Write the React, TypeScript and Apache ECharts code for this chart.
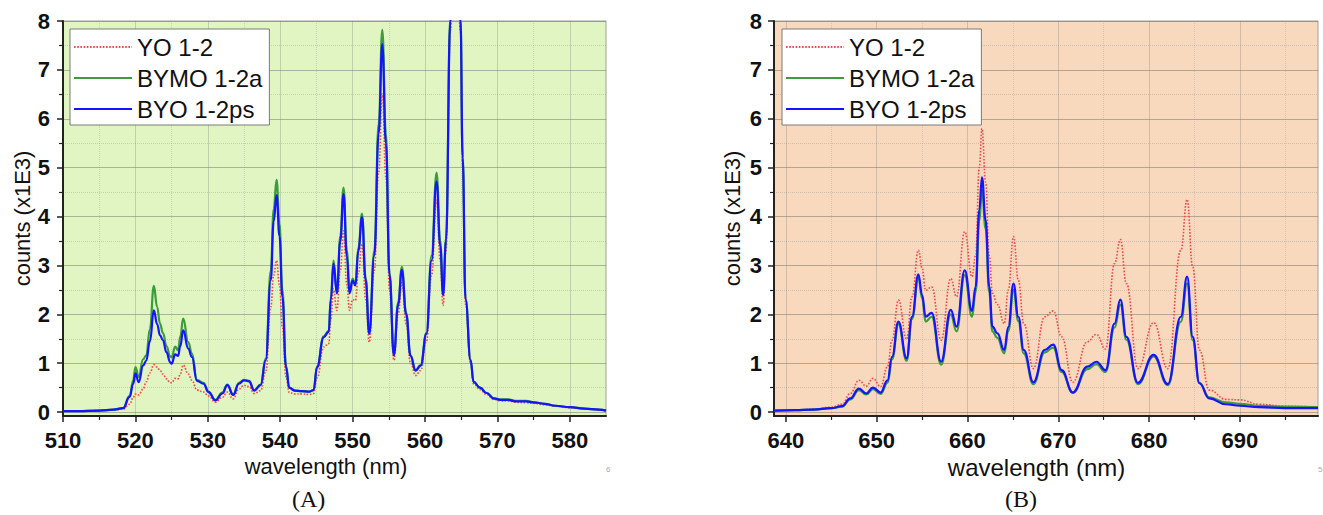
import React, { useEffect, useRef } from "react";
import * as echarts from "echarts";

const FONT = '"Liberation Sans", Arial, Helvetica, sans-serif';
const SERIF = '"Liberation Serif", "Times New Roman", serif';

const seriesNames = ["YO 1-2", "BYMO 1-2a", "BYO 1-2ps"];

// ---------- Panel A (510-585 nm) ----------
const wlA = [
  510, 512, 515, 517, 518.3, 519.2, 519.7, 520, 520.46, 521.06,
  521.5, 522, 522.55, 523, 523.4, 523.8, 524.3, 524.8, 525, 525.5,
  525.9, 526.2, 526.6, 527.3, 527.8, 528.5, 529.4, 530.1, 531.05, 532,
  532.7, 533.5, 534.3, 535, 535.7, 536.4, 537.3, 538, 538.7, 539.1,
  539.5, 539.9, 540.3, 540.8, 541.25, 542, 543, 544, 544.6, 545.1,
  546.0, 546.7, 547.0, 547.36, 547.83, 548.3, 548.75, 549.2, 549.58, 550,
  550.38, 550.8, 551.3, 551.8, 552.3, 553, 553.6, 554.1, 554.6, 555.1,
  555.7, 556.3, 556.8, 557.4, 558, 558.7, 559.4, 560.2, 560.9, 561.6,
  562.1, 562.5, 562.9, 563.5, 564.2, 564.9, 565.2, 565.6, 566.3, 566.7,
  567.6, 568.5, 569.5, 570.4, 571.5, 572.5, 574, 575, 576.5, 578,
  580, 582, 584, 585,
];
const yoA = [
  0.02, 0.02, 0.03, 0.04, 0.06, 0.16, 0.3, 0.37, 0.35, 0.47,
  0.62, 0.8, 0.97, 0.92, 0.85, 0.78, 0.68, 0.6, 0.6, 0.69,
  0.68, 0.78, 0.96, 0.78, 0.65, 0.45, 0.41, 0.33, 0.2, 0.3,
  0.41, 0.27, 0.47, 0.55, 0.52, 0.38, 0.44, 0.82, 2.15, 2.8,
  3.1, 2.6, 1.74, 0.72, 0.4, 0.37, 0.37, 0.36, 0.38, 0.7,
  1.33, 1.4, 1.9, 2.52, 2.08, 2.9, 3.71, 2.6, 2.08, 2.3,
  2.28, 2.85, 3.44, 2.3, 1.43, 2.9, 4.9, 6.51, 4.8, 2.5,
  1.06, 2.0, 2.65, 1.8, 1.0, 0.75, 0.85, 1.45, 2.8, 4.33,
  3.1, 2.18, 3.3, 7.8, 10.7, 7.8, 5.0, 2.2, 1.0, 0.58,
  0.46, 0.36, 0.26, 0.23, 0.23, 0.2, 0.19, 0.18, 0.15, 0.12,
  0.09, 0.07, 0.05, 0.03,
];
const bymoA = [
  0.02, 0.02, 0.03, 0.05, 0.08, 0.33, 0.65, 0.92, 0.72, 1.08,
  1.16, 1.7, 2.58, 2.15, 1.81, 1.62, 1.35, 1.14, 1.12, 1.34,
  1.26, 1.55, 1.91, 1.43, 1.2, 0.66, 0.6, 0.42, 0.25, 0.4,
  0.56, 0.36, 0.6, 0.66, 0.64, 0.45, 0.56, 1.1, 2.9, 4.15,
  4.75, 3.85, 2.5, 0.95, 0.5, 0.44, 0.43, 0.42, 0.45, 0.93,
  1.55, 1.66, 2.35, 3.1, 2.46, 3.6, 4.59, 3.3, 2.46, 2.73,
  2.62, 3.37, 4.06, 2.75, 1.62, 3.3, 5.9, 7.82, 5.7, 2.85,
  1.18, 2.25, 2.97, 2.03, 1.16, 0.86, 0.96, 1.62, 3.2, 4.9,
  3.5, 2.42, 3.55, 8.1, 11.2, 8.1, 5.25, 2.32, 1.07, 0.62,
  0.5, 0.39, 0.28, 0.26, 0.26, 0.23, 0.23, 0.2, 0.17, 0.13,
  0.1, 0.07, 0.05, 0.03,
];
const byoA = [
  0.02, 0.02, 0.03, 0.05, 0.08, 0.31, 0.58, 0.79, 0.61, 0.95,
  1.05, 1.45, 2.08, 1.8, 1.57, 1.47, 1.22, 1.02, 0.99, 1.18,
  1.15, 1.35, 1.67, 1.3, 1.13, 0.64, 0.58, 0.41, 0.24, 0.38,
  0.55, 0.35, 0.58, 0.65, 0.63, 0.44, 0.55, 1.06, 2.7, 3.9,
  4.44, 3.6, 2.36, 0.92, 0.5, 0.44, 0.43, 0.42, 0.45, 0.92,
  1.53, 1.64, 2.3, 3.03, 2.43, 3.5, 4.46, 3.2, 2.43, 2.69,
  2.59, 3.3, 3.99, 2.7, 1.6, 3.2, 5.7, 7.53, 5.5, 2.8,
  1.16, 2.2, 2.91, 2.0, 1.15, 0.85, 0.95, 1.6, 3.1, 4.72,
  3.4, 2.39, 3.5, 8.0, 11.0, 8.0, 5.2, 2.3, 1.06, 0.62,
  0.5, 0.39, 0.28, 0.25, 0.25, 0.22, 0.22, 0.2, 0.17, 0.13,
  0.1, 0.07, 0.05, 0.03,
];

// ---------- Panel B (638.7-698.6 nm) ----------
const wlB = [
  638.7, 641, 643, 645, 646.2, 647.1, 648.05, 648.85, 649.6, 650.44,
  651.2, 651.7, 652.4, 653.3, 653.9, 654.6, 655.0, 655.4, 656.06, 657.1,
  658.16, 658.8, 659.7, 660.5, 660.9, 661.3, 661.6, 662.0, 662.4, 662.75,
  663.3, 664.05, 664.5, 665.07, 665.6, 666.2, 667.26, 668.5, 669.45, 670.37,
  671.6, 673.2, 674.2, 675.2, 676.2, 676.84, 677.5, 678.77, 680.5, 682.06,
  683.5, 684.19, 684.8, 685.54, 686.63, 688.46, 690, 692.1, 695, 698.6,
];
const yoB = [
  0.03, 0.04, 0.06, 0.1, 0.16, 0.38, 0.65, 0.53, 0.69, 0.52,
  0.93, 1.47, 2.29, 1.49, 2.36, 3.31, 2.95, 2.49, 2.56, 1.47,
  2.73, 2.36, 3.69, 2.77, 3.2, 5.0, 5.8, 4.7, 3.2, 2.43,
  2.2, 1.81, 2.5, 3.59, 2.7, 1.81, 0.89, 1.95, 2.07, 1.54,
  0.61, 1.44, 1.59, 1.29, 3.04, 3.53, 2.63, 0.89, 1.83, 0.89,
  3.31, 4.35, 2.97, 1.27, 0.45, 0.26, 0.25, 0.16, 0.12, 0.1,
];
const bymoB = [
  0.03, 0.04, 0.05, 0.08, 0.11, 0.26, 0.45, 0.36, 0.47, 0.37,
  0.6, 1.08, 1.8, 1.05, 1.9, 2.75, 2.33, 1.85, 1.95, 0.97,
  2.0, 1.65, 2.8, 1.95, 2.45, 3.9, 4.55, 3.75, 2.45, 1.65,
  1.52, 1.2, 1.66, 2.5, 1.86, 1.2, 0.57, 1.22, 1.32, 0.82,
  0.4, 0.88, 0.98, 0.82, 1.73, 2.2, 1.48, 0.57, 1.14, 0.55,
  1.85, 2.63, 1.47, 0.6, 0.3, 0.2, 0.17, 0.13, 0.11, 0.1,
];
const byoB = [
  0.03, 0.04, 0.05, 0.08, 0.12, 0.28, 0.48, 0.38, 0.5, 0.4,
  0.65, 1.13, 1.85, 1.1, 1.95, 2.82, 2.4, 1.95, 2.03, 1.03,
  2.09, 1.75, 2.9, 2.07, 2.56, 4.13, 4.8, 3.93, 2.56, 1.75,
  1.61, 1.27, 1.74, 2.63, 1.95, 1.27, 0.61, 1.27, 1.38, 0.86,
  0.4, 0.93, 1.03, 0.86, 1.81, 2.3, 1.54, 0.6, 1.17, 0.57,
  1.95, 2.77, 1.54, 0.59, 0.28, 0.16, 0.13, 0.1, 0.08, 0.08,
];

// ---------- Tick values ----------
const yMajor = [0, 1, 2, 3, 4, 5, 6, 7, 8];
const yMinor = [0.5, 1.5, 2.5, 3.5, 4.5, 5.5, 6.5, 7.5];
const xMajorA = [510, 520, 530, 540, 550, 560, 570, 580];
const xMinorA = [515, 525, 535, 545, 555, 565, 575];
const xMajorB = [640, 650, 660, 670, 680, 690];
const xMinorB = [645, 655, 665, 675, 685, 695];

const COLORS = ["#f24848", "#3a9d3a", "#1414ff"];

export default function App() {
  const ref = useRef<HTMLDivElement>(null);

  useEffect(() => {
    if (!ref.current) return;
    const chart = echarts.init(ref.current, undefined, { renderer: "svg" });

    const zip = (xs: number[], ys: number[]) => xs.map((x, i) => [x, ys[i]]);

    const mkMainX = (grid: number, min: number, max: number, ticks: number[], nameSize: number, shift: number) => ({
      type: "value",
      gridIndex: grid,
      min,
      max,
      position: "bottom",
      axisLine: { show: true, onZero: false, lineStyle: { color: "#222", width: 2 } },
      axisTick: { show: true, customValues: ticks, length: 6, lineStyle: { color: "#222", width: 1.5 } },
      axisLabel: {
        show: true,
        customValues: ticks,
        margin: 13,
        fontSize: 22,
        fontWeight: "bold",
        color: "#111",
        fontFamily: FONT,
      },
      splitLine: { show: true, lineStyle: { color: "rgba(110,110,110,0.28)", width: 1 } },
      name: "wavelength (nm)",
      nameLocation: "middle",
      nameGap: 37,
      nameTextStyle: { fontSize: nameSize, color: "#111", fontFamily: FONT, padding: [0, shift, 0, 0] },
    });
    const mkMinorX = (grid: number, min: number, max: number, ticks: number[]) => ({
      type: "value",
      gridIndex: grid,
      min,
      max,
      position: "bottom",
      axisLine: { show: false, onZero: false },
      axisTick: { show: true, customValues: ticks, length: 4, lineStyle: { color: "#222", width: 1.2 } },
      axisLabel: { show: false },
      splitLine: { show: true, lineStyle: { color: "rgba(140,140,140,0.3)", width: 1, type: "dotted" } },
    });
    const mkMainY = (grid: number, gap: number, margin: number) => ({
      type: "value",
      gridIndex: grid,
      min: -0.08,
      max: 8,
      position: "left",
      axisLine: { show: true, onZero: false, lineStyle: { color: "#222", width: 2 } },
      axisTick: { show: true, customValues: yMajor, length: 6, lineStyle: { color: "#222", width: 1.5 } },
      axisLabel: {
        show: true,
        customValues: yMajor,
        margin,
        fontSize: 22,
        fontWeight: "bold",
        color: "#111",
        fontFamily: FONT,
      },
      splitLine: { show: true, lineStyle: { color: "rgba(90,90,90,0.42)", width: 1 } },
      name: "counts (x1E3)",
      nameLocation: "middle",
      nameGap: gap,
      nameRotate: 90,
      nameTextStyle: { fontSize: 22, color: "#111", fontFamily: FONT },
    });
    const mkMinorY = (grid: number) => ({
      type: "value",
      gridIndex: grid,
      min: -0.08,
      max: 8,
      position: "left",
      axisLine: { show: false, onZero: false },
      axisTick: { show: true, customValues: yMinor, length: 4, lineStyle: { color: "#222", width: 1.2 } },
      axisLabel: { show: false },
      splitLine: { show: true, lineStyle: { color: "rgba(140,140,140,0.35)", width: 1, type: "dotted" } },
    });

    const mkSeries = (name: string, idx: number, axis: number, xs: number[], ys: number[]) => ({
      name,
      type: "line",
      xAxisIndex: axis,
      yAxisIndex: axis,
      data: zip(xs, ys),
      symbol: "none",
      smooth: 0.45,
      smoothMonotone: "x",
      clip: true,
      color: COLORS[idx],
      lineStyle: idx === 0
        ? { color: COLORS[idx], width: 1.6, type: [1.6, 1.6] }
        : { color: COLORS[idx], width: 2.2 },
      z: 3 + idx,
    });

    const mkLegend = (left: number) => ({
      left,
      top: 29,
      orient: "vertical",
      data: seriesNames,
      itemWidth: 58,
      itemHeight: 2,
      itemGap: 7,
      padding: [6, 7, 4, 3],
      backgroundColor: "#ffffff",
      borderColor: "#7a7a7a",
      borderWidth: 1,
      borderRadius: 0,
      selectedMode: false,
      itemStyle: { opacity: 0 },
      textStyle: { fontSize: 24, color: "#111", fontFamily: FONT, lineHeight: 24 },
    });

    chart.setOption({
      animation: false,
      backgroundColor: "#ffffff",
      grid: [
        { left: 63, top: 21, width: 543, height: 395, show: true, backgroundColor: "#e0f5c2", borderColor: "#a0a0a0", borderWidth: 1 },
        { left: 774, top: 21, width: 544, height: 395, show: true, backgroundColor: "#f9d9bd", borderColor: "#a0a0a0", borderWidth: 1 },
      ],
      xAxis: [
        mkMainX(0, 510, 585, xMajorA, 22, 17),
        mkMainX(1, 638.7, 698.6, xMajorB, 24, 19),
        mkMinorX(0, 510, 585, xMinorA),
        mkMinorX(1, 638.7, 698.6, xMinorB),
      ],
      yAxis: [mkMainY(0, 30, 13), mkMainY(1, 31, 12), mkMinorY(0), mkMinorY(1)],
      legend: [mkLegend(70), mkLegend(782)],
      series: [
        mkSeries(seriesNames[0], 0, 0, wlA, yoA),
        mkSeries(seriesNames[1], 1, 0, wlA, bymoA),
        mkSeries(seriesNames[2], 2, 0, wlA, byoA),
        mkSeries(seriesNames[0], 0, 1, wlB, yoB),
        mkSeries(seriesNames[1], 1, 1, wlB, bymoB),
        mkSeries(seriesNames[2], 2, 1, wlB, byoB),
      ],
      graphic: [
        { type: "text", left: 292, top: 487, style: { text: "(A)", font: `24px ${SERIF}`, fill: "#111" } },
        { type: "text", left: 1005, top: 487, style: { text: "(B)", font: `24px ${SERIF}`, fill: "#111" } },
        { type: "text", left: 606, top: 465, style: { text: "6", font: `8px ${FONT}`, fill: "#aaa" } },
        { type: "text", left: 1318, top: 465, style: { text: "5", font: `8px ${FONT}`, fill: "#aaa" } },
      ],
    });

    return () => chart.dispose();
  }, []);

  return (
    <div
      ref={ref}
      style={{ position: "absolute", left: 0, top: 0, width: 1323, height: 515 }}
    />
  );
}
